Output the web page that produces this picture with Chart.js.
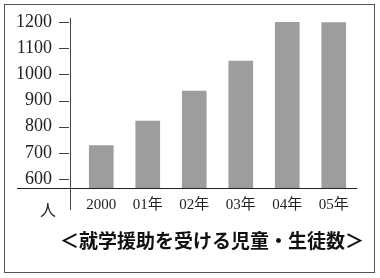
<!DOCTYPE html>
<html>
<head>
<meta charset="utf-8">
<script src="https://cdn.jsdelivr.net/npm/chart.js@4"></script>
<style>
  body { margin: 0; background: #fff; }
  #wrap { position: relative; width: 380px; height: 278px; }
  #frame { position: absolute; left: 4px; top: 4px; width: 369px; height: 267px; border: 1px solid #555; }
  #chart { position: absolute; left: 0; top: 0; }
</style>
</head>
<body>
<div id="wrap">
  <div id="frame"></div>
  <canvas id="chart" width="380" height="278"></canvas>
</div>
<script>
const years = ['2000', '01年', '02年', '03年', '04年', '05年'];
const pupils = [728, 822, 936, 1051, 1200, 1198];
const yTicks = [600, 700, 800, 900, 1000, 1100, 1200];
const unitLabel = '人';
const caption = '＜就学援助を受ける児童・生徒数＞';

const serif = '"Liberation Serif", "DejaVu Serif", "Noto Sans CJK JP", serif';
const gothic = '"Noto Sans CJK JP", sans-serif';

// axis line, dashes, baseline and the captions
const decorations = {
  id: 'decorations',
  afterDraw(chart) {
    const { ctx, chartArea } = chart;
    const yScale = chart.scales.y;
    const axisX = chartArea.left - 8;
    ctx.save();
    ctx.strokeStyle = '#444';
    ctx.lineWidth = 1;

    ctx.beginPath();
    ctx.moveTo(axisX + 0.5, chartArea.top - 4);
    ctx.lineTo(axisX + 0.5, chartArea.bottom + 22);
    ctx.stroke();

    for (const v of yTicks) {
      const y = Math.round(yScale.getPixelForValue(v)) + 0.5;
      ctx.beginPath();
      ctx.moveTo(axisX - 11, y);
      ctx.lineTo(axisX - 1, y);
      ctx.stroke();
    }

    ctx.strokeStyle = '#222';
    ctx.beginPath();
    ctx.moveTo(17, chartArea.bottom + 0.5);
    ctx.lineTo(chartArea.right, chartArea.bottom + 0.5);
    ctx.stroke();

    ctx.fillStyle = '#222';
    ctx.textAlign = 'center';
    ctx.textBaseline = 'middle';
    ctx.font = `16px ${gothic}`;
    ctx.fillText(unitLabel, 48, chartArea.bottom + 22);

    ctx.font = `bold 19px ${gothic}`;
    ctx.fillStyle = '#111';
    ctx.fillText(caption, 212, 241);
    ctx.restore();
  },
};

new Chart(document.getElementById('chart'), {
  type: 'bar',
  data: {
    labels: years,
    datasets: [{
      data: pupils,
      backgroundColor: '#9d9d9d',
      borderWidth: 0,
      barThickness: 24,
    }],
  },
  options: {
    responsive: false,
    animation: false,
    layout: { padding: { top: 22, right: 23, bottom: 56, left: 0 } },
    plugins: {
      legend: { display: false },
      tooltip: { enabled: false },
    },
    scales: {
      x: {
        grid: { display: false, drawTicks: false },
        border: { display: false },
        ticks: { color: '#222', padding: 8, font: { family: serif, size: 15 } },
      },
      y: {
        min: 566,
        max: 1200,
        afterBuildTicks: (scale) => {
          scale.ticks = yTicks.map((v) => ({ value: v }));
        },
        afterFit: (scale) => {
          scale.width = 78;
          scale.paddingTop = 0;
          scale.paddingBottom = 0;
        },
        grid: { display: false, drawTicks: false },
        border: { display: false },
        ticks: {
          color: '#222',
          padding: 26,
          autoSkip: false,
          callback: (v) => String(v),
          font: { family: serif, size: 18 },
        },
      },
    },
  },
  plugins: [decorations],
});
</script>
</body>
</html>
